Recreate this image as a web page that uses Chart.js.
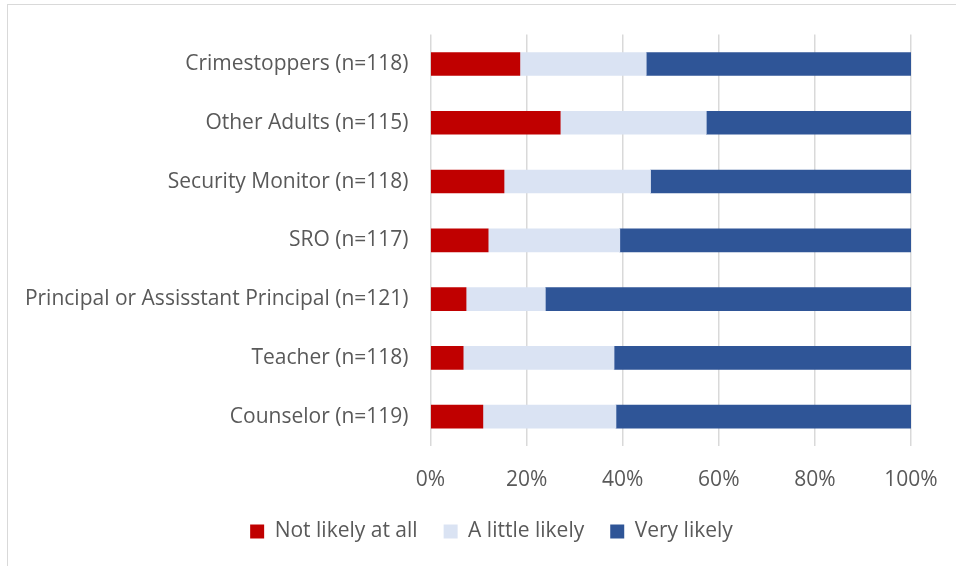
<!DOCTYPE html>
<html>
<head>
<meta charset="utf-8">
<script src="https://cdn.jsdelivr.net/npm/chart.js@4/dist/chart.umd.min.js"></script>
<style>
  html, body { margin: 0; padding: 0; background: #ffffff; }
  #wrap { width: 956px; height: 566px; position: relative; }
</style>
</head>
<body>
<div id="wrap"><canvas id="c" width="956" height="566"></canvas></div>
<script>
// Who students would tell: share of responses per adult/channel
const categories = [
  'Crimestoppers (n=118)',
  'Other Adults (n=115)',
  'Security Monitor (n=118)',
  'SRO (n=117)',
  'Principal or Assisstant Principal (n=121)',
  'Teacher (n=118)',
  'Counselor (n=119)'
];
const notLikely    = [18.6, 27.0, 15.3, 12.0,  7.4,  6.8, 10.9];
const littleLikely = [26.3, 30.4, 30.5, 27.4, 16.5, 31.4, 27.7];
const veryLikely   = [55.1, 42.6, 54.2, 60.6, 76.1, 61.8, 61.4];
const seriesNames  = ['Not likely at all', 'A little likely', 'Very likely'];
const xTicks       = [0, 20, 40, 60, 80, 100];

const textColor = '#595959';
const fontFamily = '"Open Sans", Lato, "Noto Sans", sans-serif';

// thin grey frame around the chart, and legend nudged toward the page centre
const frame = {
  id: 'frame',
  afterLayout(chart) {
    const lg = chart.legend;
    if (lg) { lg.left += 36; lg.right += 36; }
  },
  afterDraw(chart) {
    const ctx = chart.ctx;
    ctx.save();
    ctx.strokeStyle = '#d9d9d9';
    ctx.lineWidth = 1;
    ctx.strokeRect(7.5, 4.5, 1200, 1200);
    ctx.restore();
  }
};

new Chart(document.getElementById('c'), {
  type: 'bar',
  data: {
    labels: categories,
    datasets: [
      { label: seriesNames[0], data: notLikely,    backgroundColor: '#C00000' },
      { label: seriesNames[1], data: littleLikely, backgroundColor: '#DAE3F3' },
      { label: seriesNames[2], data: veryLikely,   backgroundColor: '#2F5597' }
    ]
  },
  options: {
    indexAxis: 'y',
    responsive: false,
    animation: false,
    devicePixelRatio: 1,
    layout: { padding: { top: 33, right: 45, left: 0, bottom: 14 } },
    datasets: { bar: { barThickness: 23 } },
    scales: {
      x: {
        stacked: true,
        min: 0,
        max: 100,
        afterBuildTicks(scale) { scale.ticks = xTicks.map(v => ({ value: v })); },
        afterFit(scale) { scale.height = 49; scale.paddingLeft = 0; scale.paddingRight = 0; },
        border: { display: false },
        grid: { color: '#d9d9d9', lineWidth: 1.5, drawTicks: false },
        ticks: {
          padding: 21,
          color: textColor,
          font: { family: fontFamily, size: 21 },
          callback: v => v + '%'
        }
      },
      y: {
        stacked: true,
        afterFit(scale) { scale.width = 430.5; },
        border: { display: false },
        grid: { display: false, drawTicks: false },
        ticks: {
          padding: 22,
          color: textColor,
          font: { family: fontFamily, size: 21 }
        }
      }
    },
    plugins: {
      legend: {
        position: 'bottom',
        labels: {
          boxWidth: 14,
          boxHeight: 14,
          padding: 26,
          color: textColor,
          font: { family: fontFamily, size: 21 }
        }
      },
      tooltip: { enabled: false }
    }
  },
  plugins: [frame]
});
</script>
</body>
</html>
